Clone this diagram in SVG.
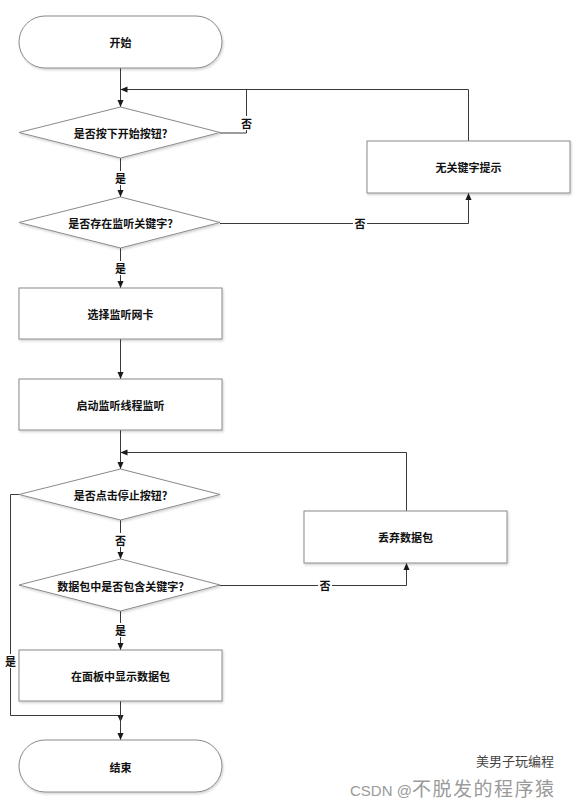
<svg xmlns="http://www.w3.org/2000/svg" width="577" height="805" viewBox="0 0 577 805">
<defs>
<marker id="arr" viewBox="0 0 8 8" refX="8" refY="4" markerWidth="7" markerHeight="7" markerUnits="userSpaceOnUse" orient="auto">
<path d="M0,0.5 L8,4 L0,7.5 Z" fill="#1a1a1a"/>
</marker>
<filter id="sh" x="-5%" y="-5%" width="115%" height="120%">
<feDropShadow dx="1" dy="1.5" stdDeviation="1" flood-color="#000" flood-opacity="0.18"/>
</filter>
</defs>
<style>
.shape{fill:#fff;stroke:#8a8a8a;stroke-width:1;filter:url(#sh)}
.t{font-family:"Noto Sans CJK SC","Liberation Sans",sans-serif;font-size:11px;font-weight:bold;fill:#111;text-anchor:middle;dominant-baseline:central}
.c{fill:none;stroke:#3a3a3a;stroke-width:1}
.lb{fill:#fff}
</style>
<rect width="577" height="805" fill="#fff"/>
<g id="connectors">
<path class="c" d="M120.5,68 V107" marker-end="url(#arr)"/>
<path class="c" d="M120.5,158 V197" marker-end="url(#arr)"/>
<path class="c" d="M220,133 H246.5 V89.5"/>
<path class="c" d="M220,223.5 H468.5 V193" marker-end="url(#arr)"/>
<path class="c" d="M468.5,141 V89.5 H120.5" marker-end="url(#arr)"/>
<path class="c" d="M120.5,248 V288" marker-end="url(#arr)"/>
<path class="c" d="M120.5,339 V379" marker-end="url(#arr)"/>
<path class="c" d="M120.5,430 V469" marker-end="url(#arr)"/>
<path class="c" d="M120.5,520 V559" marker-end="url(#arr)"/>
<path class="c" d="M220,585.5 H406.5 V563" marker-end="url(#arr)"/>
<path class="c" d="M406.5,511 V452.5 H120.5" marker-end="url(#arr)"/>
<path class="c" d="M120.5,611 V650" marker-end="url(#arr)"/>
<path class="c" d="M19,494.5 H10.5 V715.5 H120.5 V722" marker-end="url(#arr)"/>
<path class="c" d="M120.5,701 V740" marker-end="url(#arr)"/>
<rect class="lb" x="240" y="116" width="13" height="14"/><text class="t" x="246.5" y="123">否</text>
<rect class="lb" x="114" y="171" width="13" height="14"/><text class="t" x="120.5" y="178">是</text>
<rect class="lb" x="353" y="216" width="14" height="14"/><text class="t" x="360" y="223">否</text>
<rect class="lb" x="114" y="261" width="13" height="14"/><text class="t" x="120.5" y="268">是</text>
<rect class="lb" x="114" y="533" width="13" height="14"/><text class="t" x="120.5" y="540">否</text>
<rect class="lb" x="318" y="578" width="14" height="14"/><text class="t" x="325" y="585">否</text>
<rect class="lb" x="114" y="623" width="13" height="14"/><text class="t" x="120.5" y="630">是</text>
<rect class="lb" x="4" y="654" width="13" height="14"/><text class="t" x="10.5" y="661">是</text>
</g>
<g id="start"><rect class="shape" x="19" y="16" width="203" height="52" rx="26"/><text class="t" x="120.5" y="42">开始</text></g>
<g id="d1"><polygon class="shape" points="120.5,107 220,132.5 120.5,158 19,132.5"/><text class="t" x="120.5" y="133">是否按下开始按钮?</text></g>
<g id="d2"><polygon class="shape" points="120.5,197 220,222.5 120.5,248 19,222.5"/><text class="t" x="120.5" y="223">是否存在监听关键字?</text></g>
<g id="nokey"><rect class="shape" x="367" y="141" width="203" height="52"/><text class="t" x="468.5" y="167">无关键字提示</text></g>
<g id="select"><rect class="shape" x="19" y="288" width="203" height="51"/><text class="t" x="120.5" y="314">选择监听网卡</text></g>
<g id="startthread"><rect class="shape" x="19" y="379" width="203" height="51"/><text class="t" x="120.5" y="405">启动监听线程监听</text></g>
<g id="d3"><polygon class="shape" points="120.5,469 220,494.5 120.5,520 19,494.5"/><text class="t" x="120.5" y="495">是否点击停止按钮?</text></g>
<g id="discard"><rect class="shape" x="304" y="511" width="203" height="52"/><text class="t" x="405.5" y="537">丢弃数据包</text></g>
<g id="d4"><polygon class="shape" points="120.5,559 220,585 120.5,611 19,585"/><text class="t" x="120.5" y="585.5">数据包中是否包含关键字?</text></g>
<g id="show"><rect class="shape" x="19" y="650" width="203" height="51"/><text class="t" x="120.5" y="676">在面板中显示数据包</text></g>
<g id="end"><rect class="shape" x="19" y="740" width="203" height="52" rx="26"/><text class="t" x="120.5" y="767">结束</text></g>
<g id="watermark">
<text x="350" y="796" font-size="15" fill="#9a9a9a" font-family="'Liberation Sans','Noto Sans CJK SC',sans-serif">CSDN @<tspan font-size="19" letter-spacing="1.5" font-family="'Noto Sans CJK SC',sans-serif">不脱发的程序猿</tspan></text>
<text x="476" y="766" font-size="13" fill="#444" font-family="'Noto Sans CJK SC',sans-serif">美男子玩编程</text>
</g>
</svg>
